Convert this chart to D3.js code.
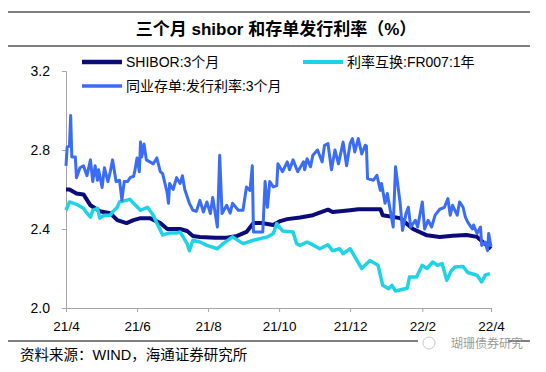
<!DOCTYPE html>
<html>
<head>
<meta charset="utf-8">
<script src="https://cdn.jsdelivr.net/npm/d3@7"></script>
<style>
  body { margin: 0; background: #fff; }
  svg { display: block; font-family: "Liberation Sans", Arial, "Noto Sans CJK SC", sans-serif; }
</style>
</head>
<body>
<svg id="chart" width="546" height="372"></svg>
<script>
const title = "三个月 shibor 和存单发行利率（%）"
const source = "资料来源：WIND，海通证券研究所"
const seriesNames = ["SHIBOR:3个月", "利率互换:FR007:1年", "同业存单:发行利率:3个月"]
const yTicks = [2.0, 2.4, 2.8, 3.2]
const xTicks = ["2021-04-01", "2021-06-01", "2021-08-01", "2021-10-01", "2021-12-01", "2022-02-01", "2022-04-01"]

const shibor = [
  ["2021-04-01", 2.60], ["2021-04-04", 2.60], ["2021-04-10", 2.58], ["2021-04-16", 2.575],
  ["2021-04-22", 2.52], ["2021-04-30", 2.49], ["2021-05-09", 2.48], ["2021-05-15", 2.445],
  ["2021-05-23", 2.43], ["2021-05-29", 2.445], ["2021-06-04", 2.455], ["2021-06-12", 2.455],
  ["2021-06-21", 2.43], ["2021-06-27", 2.40], ["2021-07-08", 2.40], ["2021-07-14", 2.39],
  ["2021-07-19", 2.365], ["2021-07-25", 2.36], ["2021-08-07", 2.356], ["2021-08-17", 2.356],
  ["2021-08-26", 2.365], ["2021-09-03", 2.385], ["2021-09-09", 2.43], ["2021-09-16", 2.43],
  ["2021-09-26", 2.42], ["2021-10-02", 2.44], ["2021-10-08", 2.45], ["2021-10-19", 2.458],
  ["2021-10-30", 2.47], ["2021-11-12", 2.498], ["2021-11-16", 2.486], ["2021-12-01", 2.495],
  ["2021-12-08", 2.50], ["2021-12-27", 2.50], ["2021-12-29", 2.47], ["2022-01-13", 2.455],
  ["2022-01-24", 2.40], ["2022-02-05", 2.368], ["2022-02-16", 2.36], ["2022-02-27", 2.366],
  ["2022-03-11", 2.37], ["2022-03-20", 2.36], ["2022-03-25", 2.334], ["2022-04-01", 2.30]
]

const fr007 = [
  ["2021-04-01", 2.495], ["2021-04-04", 2.537], ["2021-04-10", 2.525], ["2021-04-16", 2.505],
  ["2021-04-19", 2.48], ["2021-04-22", 2.46], ["2021-04-24", 2.495], ["2021-04-28", 2.505],
  ["2021-04-30", 2.455], ["2021-05-04", 2.47], ["2021-05-09", 2.47], ["2021-05-11", 2.486],
  ["2021-05-15", 2.51], ["2021-05-17", 2.537], ["2021-05-26", 2.55], ["2021-05-29", 2.53],
  ["2021-06-04", 2.495], ["2021-06-10", 2.51], ["2021-06-15", 2.47], ["2021-06-18", 2.43],
  ["2021-06-23", 2.37], ["2021-06-29", 2.38], ["2021-07-05", 2.38], ["2021-07-08", 2.385],
  ["2021-07-14", 2.326], ["2021-07-16", 2.29], ["2021-07-19", 2.343], ["2021-07-25", 2.334],
  ["2021-07-31", 2.317], ["2021-08-09", 2.30], ["2021-08-14", 2.326], ["2021-08-22", 2.36],
  ["2021-08-31", 2.326], ["2021-09-09", 2.343], ["2021-09-21", 2.36], ["2021-09-26", 2.377],
  ["2021-09-29", 2.427], ["2021-10-04", 2.39], ["2021-10-13", 2.385], ["2021-10-16", 2.326],
  ["2021-10-19", 2.317], ["2021-10-25", 2.334], ["2021-10-28", 2.326], ["2021-11-05", 2.30],
  ["2021-11-12", 2.32], ["2021-11-16", 2.29], ["2021-11-22", 2.30], ["2021-11-25", 2.275],
  ["2021-12-01", 2.30], ["2021-12-07", 2.24], ["2021-12-11", 2.20], ["2021-12-18", 2.24],
  ["2021-12-25", 2.216], ["2021-12-29", 2.115], ["2022-01-03", 2.098], ["2022-01-06", 2.115],
  ["2022-01-09", 2.086], ["2022-01-19", 2.10], ["2022-01-21", 2.157], ["2022-01-27", 2.157],
  ["2022-02-01", 2.216], ["2022-02-05", 2.20], ["2022-02-10", 2.233], ["2022-02-14", 2.216],
  ["2022-02-18", 2.225], ["2022-02-22", 2.14], ["2022-02-26", 2.19], ["2022-03-01", 2.207],
  ["2022-03-08", 2.21], ["2022-03-12", 2.18], ["2022-03-20", 2.166], ["2022-03-24", 2.132],
  ["2022-03-27", 2.166], ["2022-03-31", 2.174]
]

const ncd = [
  ["2021-04-01", 2.72], ["2021-04-02", 2.815], ["2021-04-04", 2.82], ["2021-04-05", 2.975],
  ["2021-04-06", 2.765], ["2021-04-09", 2.765], ["2021-04-10", 2.66], ["2021-04-13", 2.71],
  ["2021-04-16", 2.72], ["2021-04-19", 2.67], ["2021-04-22", 2.75], ["2021-04-24", 2.64],
  ["2021-04-26", 2.72], ["2021-04-28", 2.647], ["2021-04-29", 2.70], ["2021-05-02", 2.61],
  ["2021-05-04", 2.71], ["2021-05-07", 2.64], ["2021-05-09", 2.69], ["2021-05-11", 2.75],
  ["2021-05-14", 2.64], ["2021-05-17", 2.647], ["2021-05-19", 2.545], ["2021-05-21", 2.64],
  ["2021-05-24", 2.64], ["2021-05-26", 2.66], ["2021-05-29", 2.667], ["2021-05-30", 2.69],
  ["2021-06-01", 2.76], ["2021-06-03", 2.69], ["2021-06-04", 2.84], ["2021-06-05", 2.765],
  ["2021-06-07", 2.83], ["2021-06-09", 2.75], ["2021-06-12", 2.74], ["2021-06-15", 2.73],
  ["2021-06-18", 2.76], ["2021-06-21", 2.69], ["2021-06-23", 2.68], ["2021-06-27", 2.58],
  ["2021-06-28", 2.53], ["2021-06-29", 2.63], ["2021-07-02", 2.60], ["2021-07-05", 2.66],
  ["2021-07-08", 2.63], ["2021-07-10", 2.67], ["2021-07-12", 2.60], ["2021-07-14", 2.565],
  ["2021-07-16", 2.53], ["2021-07-19", 2.495], ["2021-07-22", 2.49], ["2021-07-25", 2.545],
  ["2021-07-28", 2.486], ["2021-07-31", 2.537], ["2021-08-03", 2.478], ["2021-08-05", 2.56],
  ["2021-08-09", 2.41], ["2021-08-11", 2.773], ["2021-08-13", 2.478], ["2021-08-17", 2.52],
  ["2021-08-20", 2.48], ["2021-08-22", 2.53], ["2021-08-27", 2.495], ["2021-08-31", 2.495],
  ["2021-09-03", 2.613], ["2021-09-06", 2.595], ["2021-09-08", 2.72], ["2021-09-09", 2.385],
  ["2021-09-17", 2.385], ["2021-09-19", 2.64], ["2021-09-21", 2.51], ["2021-09-23", 2.64],
  ["2021-09-26", 2.613], ["2021-09-29", 2.62], ["2021-09-30", 2.73], ["2021-10-04", 2.69],
  ["2021-10-08", 2.74], ["2021-10-10", 2.70], ["2021-10-13", 2.75], ["2021-10-17", 2.69],
  ["2021-10-22", 2.74], ["2021-10-23", 2.70], ["2021-10-25", 2.756], ["2021-10-28", 2.715],
  ["2021-10-30", 2.773], ["2021-11-03", 2.80], ["2021-11-07", 2.74], ["2021-11-09", 2.824],
  ["2021-11-12", 2.832], ["2021-11-15", 2.70], ["2021-11-18", 2.80], ["2021-11-21", 2.73],
  ["2021-11-25", 2.84], ["2021-11-28", 2.72], ["2021-12-01", 2.832], ["2021-12-03", 2.858],
  ["2021-12-05", 2.79], ["2021-12-08", 2.858], ["2021-12-11", 2.78], ["2021-12-14", 2.824],
  ["2021-12-15", 2.82], ["2021-12-16", 2.655], ["2021-12-21", 2.647], ["2021-12-24", 2.672],
  ["2021-12-27", 2.596], ["2021-12-28", 2.63], ["2021-12-31", 2.53], ["2022-01-02", 2.58],
  ["2022-01-04", 2.51], ["2022-01-07", 2.41], ["2022-01-09", 2.715], ["2022-01-13", 2.53],
  ["2022-01-15", 2.393], ["2022-01-18", 2.478], ["2022-01-20", 2.51], ["2022-01-22", 2.41],
  ["2022-01-26", 2.444], ["2022-01-28", 2.41], ["2022-02-01", 2.537], ["2022-02-03", 2.40],
  ["2022-02-06", 2.444], ["2022-02-09", 2.41], ["2022-02-12", 2.47], ["2022-02-16", 2.50],
  ["2022-02-20", 2.51], ["2022-02-23", 2.554], ["2022-02-25", 2.47], ["2022-02-27", 2.52],
  ["2022-03-03", 2.47], ["2022-03-05", 2.537], ["2022-03-08", 2.51], ["2022-03-10", 2.46],
  ["2022-03-12", 2.435], ["2022-03-16", 2.40], ["2022-03-17", 2.42], ["2022-03-20", 2.377],
  ["2022-03-23", 2.41], ["2022-03-24", 2.317], ["2022-03-27", 2.334], ["2022-03-29", 2.29],
  ["2022-03-30", 2.377], ["2022-04-01", 2.31]
]

const colors = ["#0b0b7a", "#1fd3e6", "#3a6cf6"]
const widths = [4, 3.5, 3]

const marginLeft = 66
const marginRight = 55
const plotTop = 71
const plotBottom = 308
const width = 546

const parse = d3.timeParse("%Y-%m-%d")
const svg = d3.select("#chart")

const x = d3.scaleTime()
  .domain([parse(xTicks[0]), parse(xTicks[xTicks.length - 1])])
  .range([marginLeft, width - marginRight])

const y = d3.scaleLinear()
  .domain([2.0, 3.2])
  .range([plotBottom, plotTop])

// title with rules above and below
svg.append("line").attr("x1", 8).attr("x2", 530).attr("y1", 12).attr("y2", 12)
  .attr("stroke", "#000").attr("stroke-width", 1.2)
svg.append("line").attr("x1", 8).attr("x2", 530).attr("y1", 46).attr("y2", 46)
  .attr("stroke", "#000").attr("stroke-width", 1.2)
svg.append("text")
  .attr("x", 276).attr("y", 35)
  .attr("text-anchor", "middle")
  .attr("font-size", 17).attr("font-weight", "bold")
  .text(title)

// y axis
const yAxis = svg.append("g")
  .attr("transform", `translate(${marginLeft},0)`)
  .call(d3.axisLeft(y).tickValues(yTicks).tickFormat(d3.format(".1f")).tickSize(4).tickPadding(12))
yAxis.select(".domain").attr("stroke", "#a6a6a6")
yAxis.selectAll(".tick line").attr("stroke", "#a6a6a6")
yAxis.selectAll("text").attr("font-size", 14).attr("fill", "#000")
  .attr("font-family", "'Liberation Sans', Arial, sans-serif")

// x axis
const xAxis = svg.append("g")
  .attr("transform", `translate(0,${plotBottom})`)
  .call(d3.axisBottom(x).tickValues(xTicks.map(parse)).tickFormat(d3.timeFormat("%y/%-m")).tickSize(4).tickPadding(9))
xAxis.select(".domain").attr("stroke", "#a6a6a6")
xAxis.selectAll(".tick line").attr("stroke", "#a6a6a6")
xAxis.selectAll("text").attr("font-size", 13.5).attr("fill", "#000")
  .attr("font-family", "'Liberation Sans', Arial, sans-serif")

// lines
const line = d3.line()
  .x(d => x(parse(d[0])))
  .y(d => y(d[1]))

;[shibor, fr007, ncd].forEach((data, i) => {
  svg.append("path")
    .datum(data)
    .attr("fill", "none")
    .attr("stroke", colors[i])
    .attr("stroke-width", widths[i])
    .attr("stroke-linejoin", "round")
    .attr("d", line)
})

// legend
const legendPos = [[82, 62], [303, 62], [82, 86]]
seriesNames.forEach((name, i) => {
  const [lx, ly] = legendPos[i]
  svg.append("line")
    .attr("x1", lx).attr("x2", lx + 40).attr("y1", ly).attr("y2", ly)
    .attr("stroke", colors[i]).attr("stroke-width", widths[i] + 0.5)
  svg.append("text")
    .attr("x", lx + 44).attr("y", ly + 5)
    .attr("font-size", 14)
    .text(name)
})

// footer
svg.append("line").attr("x1", 8).attr("x2", 530).attr("y1", 341).attr("y2", 341)
  .attr("stroke", "#000").attr("stroke-width", 1.2)
svg.append("text")
  .attr("x", 20).attr("y", 360)
  .attr("font-size", 14.5)
  .text(source)

// watermark
svg.append("rect").attr("x", 418).attr("y", 334).attr("width", 90).attr("height", 18).attr("fill", "#fff")
svg.append("circle").attr("cx", 429).attr("cy", 343).attr("r", 6)
  .attr("fill", "none").attr("stroke", "#c8c8c8").attr("stroke-width", 1)
svg.append("text")
  .attr("x", 451).attr("y", 348)
  .attr("font-size", 12).attr("fill", "#9a9a9a")
  .text("瑚珊债券研究")
</script>
</body>
</html>
